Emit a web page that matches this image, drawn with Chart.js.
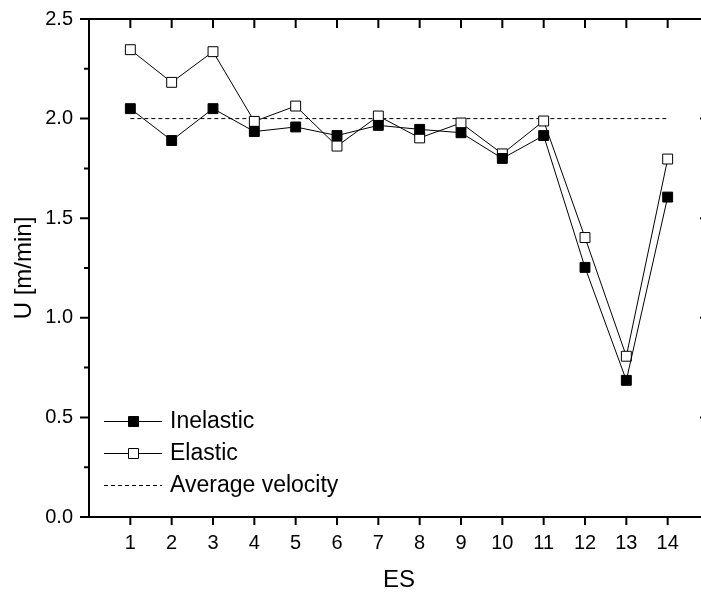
<!DOCTYPE html>
<html>
<head>
<meta charset="utf-8">
<script src="https://cdn.jsdelivr.net/npm/chart.js@4/dist/chart.umd.min.js"></script>
<style>
	html, body { margin: 0; padding: 0; background: #fff; overflow: hidden; }
	#chart { display: block; }
</style>
</head>
<body>
<canvas id="chart" width="717" height="595"></canvas>
<script>
const es = [1, 2, 3, 4, 5, 6, 7, 8, 9, 10, 11, 12, 13, 14];
const inelastic = [2.05, 1.89, 2.05, 1.935, 1.958, 1.915, 1.966, 1.946, 1.929, 1.80, 1.915, 1.253, 0.686, 1.606];
const elastic = [2.346, 2.182, 2.336, 1.986, 2.063, 1.862, 2.013, 1.903, 1.978, 1.823, 1.988, 1.403, 0.807, 1.797];
const avgX = [1, 14];
const avgY = [2.0, 2.0];
const yMajor = [0, 0.5, 1.0, 1.5, 2.0, 2.5];
const yMinor = [0.25, 0.75, 1.25, 1.75, 2.25];

(function chart() {
	Chart.defaults.font.family = "'Liberation Sans', Arial, sans-serif";
	Chart.defaults.color = '#000';

	const pts = (xs, ys) => xs.map((x, i) => ({x: x, y: ys[i]}));

	// axis frame and tick marks, from the scales
	const frame = {
		id: 'frame',
		afterDatasetsDraw(c) {
			let ctx = c.ctx;
			let a = c.chartArea;
			let xs = c.scales.x, ys = c.scales.y;
			ctx.save();
			ctx.strokeStyle = '#000';
			ctx.lineWidth = 2;
			ctx.beginPath();
			ctx.moveTo(a.left, a.top);
			ctx.lineTo(a.right, a.top);
			ctx.lineTo(a.right, a.bottom);
			ctx.lineTo(a.left, a.bottom);
			ctx.closePath();
			ctx.stroke();
			ctx.beginPath();
			yMajor.forEach(v => {
				let y = ys.getPixelForValue(v);
				ctx.moveTo(a.left - 9, y); ctx.lineTo(a.left, y);
				ctx.moveTo(a.right, y); ctx.lineTo(a.right - 9, y);
			});
			yMinor.forEach(v => {
				let y = ys.getPixelForValue(v);
				ctx.moveTo(a.left - 5, y); ctx.lineTo(a.left, y);
				ctx.moveTo(a.right, y); ctx.lineTo(a.right - 5, y);
			});
			es.forEach(v => {
				let x = xs.getPixelForValue(v);
				ctx.moveTo(x, a.bottom); ctx.lineTo(x, a.bottom + 8);
				ctx.moveTo(x, a.top); ctx.lineTo(x, a.top + 9);
			});
			ctx.stroke();
			ctx.restore();
		}
	};

	// legend with line + marker samples, inside the plot
	const legendBox = {
		id: 'legendBox',
		afterDraw(c) {
			let ctx = c.ctx;
			let rows = [421, 453, 485];
			ctx.save();
			c.data.datasets.forEach((ds, i) => {
				let y = rows[i];
				ctx.strokeStyle = '#000';
				ctx.lineWidth = 1;
				ctx.setLineDash(ds.borderDash || []);
				ctx.beginPath();
				ctx.moveTo(104, y + 0.5);
				ctx.lineTo(162, y + 0.5);
				ctx.stroke();
				ctx.setLineDash([]);
				if (ds.pointRadius > 0) {
					ctx.fillStyle = ds.pointBackgroundColor;
					ctx.beginPath();
					ctx.rect(128.5, y - 4.5, 10, 10);
					ctx.fill();
					ctx.stroke();
				}
				ctx.fillStyle = '#000';
				ctx.font = "23px 'Liberation Sans', Arial, sans-serif";
				ctx.textBaseline = 'middle';
				ctx.fillText(ds.label, 170, y + 1);
			});
			ctx.restore();
		}
	};

	let ctx = document.getElementById('chart').getContext('2d');
	let myChart = new Chart(ctx, {
		type: 'line',
		data: {
			datasets: [{
				label: 'Inelastic',
				data: pts(es, inelastic),
				borderColor: '#000',
				borderWidth: 1,
				pointStyle: 'rect',
				pointRadius: 7,
				pointBorderWidth: 1,
				pointBackgroundColor: '#000',
				pointBorderColor: '#000'
			},
			{
				label: 'Elastic',
				data: pts(es, elastic),
				borderColor: '#000',
				borderWidth: 1,
				pointStyle: 'rect',
				pointRadius: 7,
				pointBorderWidth: 1,
				pointBackgroundColor: '#fff',
				pointBorderColor: '#000'
			},
			{
				label: 'Average velocity',
				data: pts(avgX, avgY),
				borderColor: '#000',
				borderWidth: 1,
				borderDash: [4, 3],
				pointRadius: 0
			}]
		},
		options: {
			responsive: false,
			animation: false,
			layout: { padding: { top: 19, right: 0, left: 0, bottom: 0 } },
			plugins: {
				legend: { display: false },
				tooltip: { enabled: false }
			},
			scales: {
				x: {
					type: 'linear',
					min: 0,
					max: 15,
					border: { display: false },
					grid: { display: false, drawTicks: false },
					ticks: {
						stepSize: 1,
						autoSkip: false,
						maxRotation: 0,
						padding: 14,
						font: { size: 20 },
						callback: (v) => es.includes(v) ? String(v) : ''
					},
					title: {
						display: true,
						text: 'ES',
						font: { size: 24 },
						padding: { top: 0, bottom: 0 }
					},
					afterFit: (s) => { s.height = 78; s.paddingLeft = 0; s.paddingRight = 0; }
				},
				y: {
					min: 0,
					max: 2.5,
					border: { display: false },
					grid: { display: false, drawTicks: false },
					ticks: {
						stepSize: 0.5,
						padding: 16,
						font: { size: 20 },
						callback: (v) => v.toFixed(1)
					},
					title: {
						display: true,
						text: 'U [m/min]',
						font: { size: 24 },
						padding: { top: 10, bottom: 0 }
					},
					afterFit: (s) => { s.width = 89; s.paddingTop = 0; s.paddingBottom = 0; }
				}
			}
		},
		plugins: [frame, legendBox]
	});
})();
</script>
</body>
</html>
